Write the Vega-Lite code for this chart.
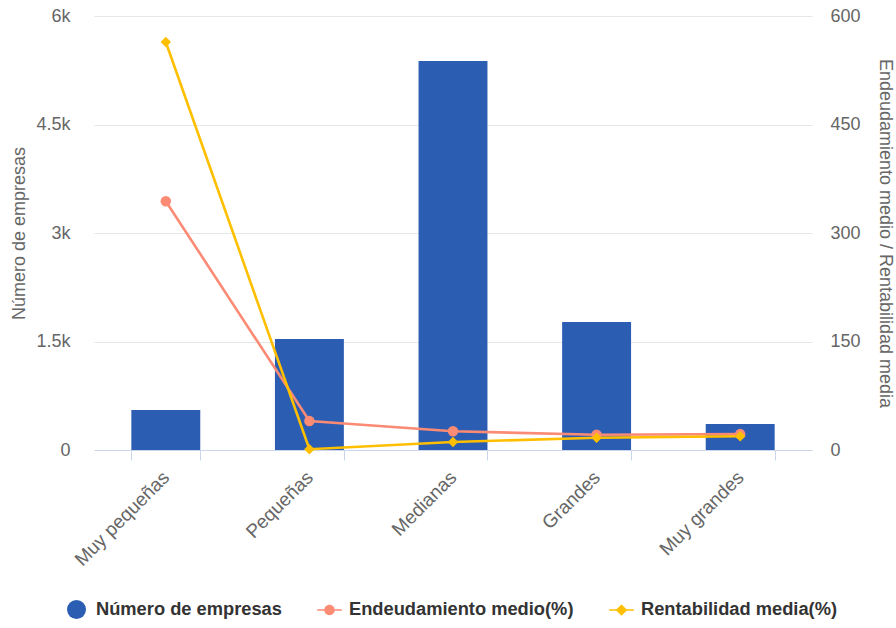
{
  "$schema": "https://vega.github.io/schema/vega-lite/v6.json",
  "autosize": {"type": "none"},
  "padding": {"left": 94, "top": 16, "right": 84, "bottom": 178},
  "width": 718,
  "height": 434,
  "background": "white",
  "config": {
    "view": {"stroke": null},
    "font": "Liberation Sans",
    "axis": {"labelFont": "Liberation Sans", "titleFont": "Liberation Sans", "labelColor": "#666666", "titleColor": "#666666", "labelFontSize": 18, "titleFontSize": 18, "titleFontWeight": "normal"}
  },
  "data": {
    "values": [
      {"categoria": "Muy pequeñas", "empresas": 553, "endeudamiento": 344, "rentabilidad": 564},
      {"categoria": "Pequeñas", "empresas": 1535, "endeudamiento": 40, "rentabilidad": 1},
      {"categoria": "Medianas", "empresas": 5378, "endeudamiento": 26, "rentabilidad": 11},
      {"categoria": "Grandes", "empresas": 1769, "endeudamiento": 21, "rentabilidad": 17},
      {"categoria": "Muy grandes", "empresas": 359, "endeudamiento": 22, "rentabilidad": 19}
    ]
  },
  "encoding": {
    "x": {
      "field": "categoria", "type": "nominal", "sort": null, "title": null,
      "scale": {"paddingInner": 0.52, "paddingOuter": 0.26},
      "axis": {"labelAngle": -45, "labelAlign": "right", "labelBaseline": "middle", "labelFontSize": 19, "domainColor": "#ccd6eb", "tickColor": "#ccd6eb", "tickBand": "extent", "tickSize": 10, "labelPadding": 14, "grid": false}
    }
  },
  "layer": [
    {
      "mark": {"type": "bar", "color": "#2b5db2"},
      "encoding": {
        "y": {"field": "empresas", "type": "quantitative", "title": "Número de empresas",
          "scale": {"domain": [0, 6000]},
          "axis": {"values": [0, 1500, 3000, 4500, 6000], "labelExpr": "datum.value === 0 ? '0' : format(datum.value / 1000, '~g') + 'k'", "domain": false, "ticks": false, "gridColor": "#e6e6e6", "labelPadding": 24, "titlePadding": 7}},
        "color": {"datum": "Número de empresas", "type": "nominal",
          "scale": {"domain": ["Número de empresas", "Endeudamiento medio(%)", "Rentabilidad media(%)"], "range": ["#2b5db2", "#fb8b74", "#fdbf00"]},
          "legend": {
            "orient": "none", "legendX": -27, "legendY": 584, "direction": "horizontal", "title": null,
            "labelFont": "Liberation Sans", "labelFontSize": 18.3, "labelFontWeight": "bold", "labelColor": "#333333", "labelLimit": 400,
            "symbolSize": 361, "symbolStrokeWidth": 0, "columnPadding": 35, "labelOffset": 10,
            "encode": {"symbols": {"update": {"shape": {"signal": "datum.value === 'Número de empresas' ? 'circle' : (datum.value === 'Endeudamiento medio(%)' ? 'M-1.3,-0.08H1.3V0.08H-1.3Z M0.55,0A0.55,0.55 0 1,1 -0.55,0A0.55,0.55 0 1,1 0.55,0Z' : 'M-1.3,-0.08H1.3V0.08H-1.3Z M0,-0.6L0.62,0L0,0.6L-0.62,0Z')"}}}}
          }
        }
      }
    },
    {
      "transform": [{"fold": ["endeudamiento", "rentabilidad"], "as": ["serie", "valor"]},
                    {"calculate": "datum.serie === 'endeudamiento' ? 'Endeudamiento medio(%)' : 'Rentabilidad media(%)'", "as": "nombre"}],
      "layer": [
        {"mark": {"type": "line", "strokeWidth": 2.6}},
        {"mark": {"type": "point", "filled": true, "opacity": 1, "size": 110},
         "encoding": {"shape": {"field": "nombre", "type": "nominal", "scale": {"domain": ["Endeudamiento medio(%)", "Rentabilidad media(%)"], "range": ["circle", "diamond"]}, "legend": null}}}
      ],
      "encoding": {
        "y": {"field": "valor", "type": "quantitative", "title": "Endeudamiento medio / Rentabilidad media",
          "scale": {"domain": [0, 600]},
          "axis": {"orient": "right", "values": [0, 150, 300, 450, 600], "domain": false, "ticks": false, "grid": false, "labelPadding": 18, "titlePadding": 15}},
        "color": {"field": "nombre", "type": "nominal", "legend": {"title": null}}
      }
    }
  ],
  "resolve": {"scale": {"y": "independent"}}
}
